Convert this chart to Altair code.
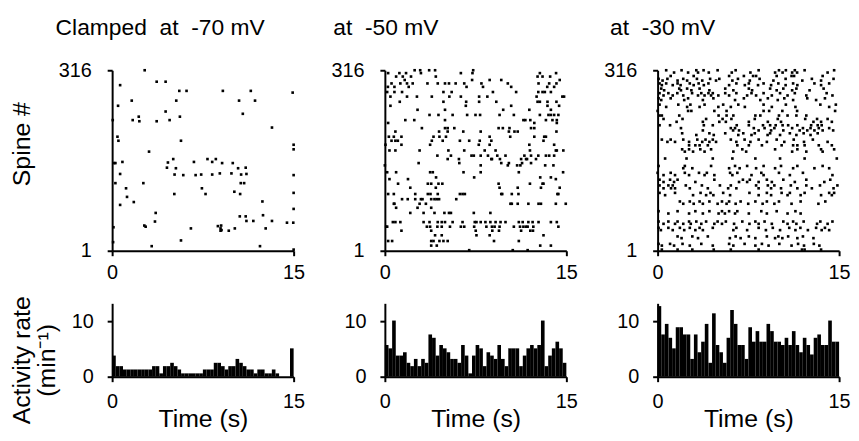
import altair as alt
import pandas as pd

FONT = "Liberation Sans"
NB = "\u00a0"

# ---------------- text ----------------
TITLES = ["Clamped" + NB * 2 + "at" + NB * 2 + "-70" + NB + "mV",
          "at" + NB * 2 + "-50" + NB + "mV",
          "at" + NB * 2 + "-30" + NB + "mV"]
TITLE_DX = [-57, -52, -48]
SPINE_TICKS = [1, 316]
TIME_TICKS = [0, 15]
RATE_TICKS = [0, 10]
BIN_WIDTH_S = 0.3

# ---------------- raster data ----------------
# Clamped at -70 mV: (time s, spine #)
EVENTS_70 = [(2.69, 316), (0.66, 290), (3.68, 296), (4.42, 296), (5.55, 280), (6.15, 280), (9.15, 280),
             (11.46, 280), (14.92, 277), (1.62, 263), (5.30, 263), (10.49, 263), (11.81, 263), (0.49, 254),
             (4.42, 244), (10.8, 240), (0.05, 229), (1.70, 229), (2.20, 235), (2.25, 227), (3.68, 227),
             (4.75, 229), (5.60, 235), (13.21, 216), (0.44, 200), (0.52, 193), (5.69, 193), (15.0, 186),
             (15.0, 178), (3.05, 174), (0.16, 154), (0.27, 154), (0.85, 156), (4.61, 155), (5.05, 161),
             (4.53, 146), (5.27, 145), (5.16, 134), (5.88, 133), (6.76, 156), (6.90, 133), (7.36, 134),
             (7.88, 161), (8.27, 156), (8.57, 161), (8.27, 134), (9.09, 154), (8.90, 136), (9.86, 136),
             (9.97, 154), (10.41, 145), (11.04, 146), (10.66, 134), (11.10, 135), (10.63, 119), (10.91, 119),
             (0.66, 135), (0.27, 119), (2.58, 119), (1.15, 110), (7.42, 110), (7.72, 100), (5.14, 100),
             (10.1, 104), (10.58, 100), (15.0, 133), (15.0, 102), (1.23, 95), (1.79, 86), (0.66, 81),
             (12.42, 87), (15.0, 74), (3.60, 67), (10.55, 61), (11.04, 61), (12.47, 63), (11.10, 53),
             (11.67, 53), (13.21, 53), (3.54, 52), (14.45, 50), (14.97, 50), (2.66, 45), (2.77, 43),
             (0.11, 42), (6.51, 40), (8.74, 44), (9.01, 45), (8.96, 40), (9.04, 37), (8.96, 36), (9.64, 36),
             (10.14, 40), (12.69, 40), (5.69, 19), (0.08, 16), (3.27, 9), (12.22, 9), (15.0, 3)]

# at -50 mV: (spine #, [event times s])
ROWS_50 = [
    (316, [2.46, 2.92, 3.66, 4.15, 7.30]),
    (311, [0.27, 1.20, 1.75, 2.98, 6.28, 7.24, 12.81, 14.15]),
    (305, [0.93, 1.48, 2.16, 4.21, 12.62, 13.03, 13.66]),
    (299, [1.64, 7.21, 8.66, 9.62, 14.45]),
    (293, [0.55, 1.28, 1.83, 2.30, 3.52, 4.37, 4.97, 5.30, 5.85, 6.56, 7.98, 10.16, 12.70, 13.58, 14.18]),
    (287, [0.25, 0.79, 1.97, 6.75, 8.11, 10.44, 13.42, 13.99]),
    (278, [0.19, 0.79, 1.42, 4.84, 5.52, 8.93, 10.85, 12.68, 13.03, 13.22, 13.72]),
    (270, [0.46, 1.83, 2.65, 3.88, 5.33, 6.28, 7.79, 8.47, 12.54, 14.67, 14.81]),
    (261, [1.23, 4.84, 6.72, 7.79, 9.21, 12.62, 12.81, 13.44, 14.18]),
    (254, [0.46, 6.69, 10.44, 13.44, 14.40]),
    (247, [2.70, 4.97, 9.78, 11.94, 13.72]),
    (238, [3.69, 4.43, 5.60, 6.80, 7.49, 7.87, 9.48, 10.66, 12.81, 13.52, 13.72, 13.99, 14.34]),
    (229, [1.69, 2.43, 4.97, 11.45, 11.61, 12.02, 13.31, 13.85, 14.21]),
    (224, [0.27, 12.35, 14.21]),
    (215, [3.06, 4.97, 5.19, 5.74, 9.40, 9.75, 10.30, 12.08, 12.35]),
    (209, [0.87, 4.48, 5.19, 6.48, 7.92, 10.25, 10.71, 10.98, 14.18]),
    (200, [0.33, 0.74, 1.37, 4.02, 4.51, 5.05, 8.66, 10.36, 12.35, 13.17, 13.31]),
    (193, [0.55, 0.87, 1.07, 3.88, 4.78, 6.20, 6.97, 7.84, 8.80, 13.11]),
    (186, [0.05, 1.37, 3.74, 7.76, 8.66, 11.94, 13.99]),
    (176, [0.38, 0.87, 2.87, 5.25, 6.56, 8.25, 9.15, 11.99, 14.13, 14.21, 14.75]),
    (167, [4.34, 5.46, 7.16, 7.35, 7.92, 8.52, 9.29, 9.97, 11.53, 12.08, 12.68, 13.31, 13.58, 13.99]),
    (161, [5.19, 6.12, 8.80, 8.85, 9.51, 11.26, 11.67, 11.75, 12.49]),
    (154, [2.79, 6.15, 9.62, 10.25, 11.34, 12.08]),
    (150, [0.0, 7.92, 10.16, 10.93, 11.20, 13.25, 13.93]),
    (138, [0.19, 0.93, 3.74, 3.96, 6.50, 7.92, 11.07, 14.73]),
    (129, [4.23, 7.38, 12.84, 13.72]),
    (126, [0.38, 1.91, 14.13]),
    (118, [1.09, 3.55, 3.83, 4.43, 4.75, 9.40, 11.99, 13.03, 13.11]),
    (111, [2.10, 4.21, 9.48, 10.98, 12.90, 14.45]),
    (100, [0.27, 0.74, 2.51, 3.55, 3.77, 4.37, 6.20, 6.42, 6.61, 9.62, 9.70, 10.49, 11.04, 14.26, 14.34]),
    (91, [1.42, 1.89, 2.51, 2.98, 3.11, 3.83, 4.10, 4.29, 4.48, 5.90]),
    (83, [0.74, 0.79, 2.87, 3.39, 10.38, 10.49, 10.98, 11.86, 12.70, 12.90, 14.13, 14.95]),
    (76, [0.93, 2.70, 3.83]),
    (67, [2.10, 3.20, 4.10, 4.92, 5.30, 5.46, 7.35, 8.72]),
    (51, [0.66, 0.87, 1.28, 3.20, 3.69, 4.37, 4.70, 4.97, 5.60, 6.42, 7.43, 7.57, 7.92, 8.31, 8.72, 9.15,
          9.56, 9.97, 11.07, 11.39, 11.86, 12.21, 12.70, 13.72, 14.21]),
    (43, [0.11, 0.19, 3.47, 3.74, 4.34, 4.70, 5.38, 6.28, 6.56, 7.38, 8.39, 8.85, 9.07, 9.48, 10.66, 11.17,
          11.45, 11.67, 11.80, 12.27, 14.34]),
    (36, [1.37, 3.83, 7.51, 8.88, 9.43, 11.26, 12.02, 12.24]),
    (28, [4.15, 4.70, 7.57, 8.66, 13.11]),
    (18, [0.27, 0.60, 3.83, 4.02, 4.51, 4.84, 5.19, 9.02, 11.07]),
    (10, [3.83, 4.29, 12.84, 13.72]),
    (2, [6.97, 10.57, 11.80]),
]

# at -30 mV: (spine #, [event times s])
ROWS_30 = [
    (316, [0.71, 1.98, 3.20, 3.80, 4.96, 6.45, 8.35, 10.03, 10.60, 11.34, 12.15, 14.59]),
    (312, [1.36, 2.52, 3.34, 4.23, 6.13, 7.67, 9.71, 10.33, 11.12, 11.53, 14.05]),
    (306, [1.08, 2.98, 5.91, 7.13, 7.89, 8.14, 9.84, 11.07, 11.28, 13.64]),
    (301, [0.08, 0.81, 2.12, 3.25, 4.34, 5.10, 6.64, 8.43, 10.58, 12.75, 14.54]),
    (298, [0.41, 1.65, 2.44, 3.69, 4.83, 6.18, 7.62, 9.57, 11.96, 13.51]),
    (293, [0.16, 0.71, 1.65, 2.66, 3.39, 4.20, 6.51, 7.54, 8.76, 9.98, 11.20, 12.96, 14.18]),
    (290, [0.35, 1.25, 1.90, 2.98, 3.82, 5.91, 7.21, 8.30, 9.38, 10.58, 11.55, 13.51]),
    (284, [0.30, 1.79, 2.44, 3.47, 5.59, 7.54, 9.30, 10.39, 11.47, 13.72]),
    (281, [0.54, 1.93, 2.79, 4.28, 6.26, 7.81, 9.84, 11.12, 12.56]),
    (276, [0.16, 0.89, 1.63, 2.85, 3.61, 4.20, 4.56, 5.59, 6.51, 7.76, 8.76, 10.12, 11.34, 13.97]),
    (272, [0.49, 1.25, 2.12, 3.34, 3.88, 4.42, 5.02, 5.91, 7.40, 8.14, 9.44, 10.74, 12.29, 14.45]),
    (267, [0.08, 1.08, 2.52, 4.61, 7.13, 9.11, 10.47, 12.37, 13.83]),
    (264, [0.30, 2.20, 3.74, 6.40, 8.49, 9.93, 11.20, 13.10]),
    (256, [0.16, 1.71, 2.71, 3.88, 5.42, 6.67, 8.76, 10.60, 13.45, 14.73]),
    (252, [0.71, 2.44, 3.47, 5.02, 6.05, 7.21, 9.44, 11.39, 14.18]),
    (245, [0.0, 2.52, 2.79, 4.69, 5.70, 8.76, 9.22, 10.31, 11.53, 14.67]),
    (237, [0.16, 0.35, 1.79, 5.04, 5.70, 6.26, 8.08, 8.49, 10.03, 10.74, 11.47, 12.29]),
    (231, [0.49, 2.06, 4.01, 5.37, 6.10, 8.03, 9.93, 12.20, 13.18, 14.05]),
    (226, [1.57, 3.74, 5.10, 5.64, 7.54, 9.11, 10.20, 12.88, 13.51, 14.40]),
    (220, [0.16, 1.03, 3.82, 4.56, 6.54, 7.54, 8.71, 9.30, 9.76, 10.33, 10.79, 11.55, 12.69, 13.23, 13.56]),
    (215, [1.93, 6.05, 6.40, 7.95, 8.84, 9.65, 11.12, 12.01, 12.64, 13.32, 14.18]),
    (211, [3.74, 6.24, 6.73, 8.35, 9.38, 10.39, 11.74, 12.37, 12.96, 13.64, 14.51]),
    (206, [2.03, 4.28, 5.59, 7.08, 8.03, 9.30, 10.93, 12.07, 13.23]),
    (203, [3.20, 4.64, 6.67, 7.76, 9.09, 10.12, 11.47, 12.64]),
    (195, [0.35, 1.08, 2.12, 3.28, 3.96, 4.56, 6.05, 7.19, 8.35, 9.84, 11.25, 12.83]),
    (191, [0.81, 1.44, 2.60, 3.69, 4.28, 4.83, 6.51, 7.67, 9.03, 10.47, 12.10, 14.05]),
    (185, [2.60, 3.12, 3.47, 4.15, 6.59, 7.54, 8.62, 10.25, 11.20, 11.55, 12.15, 13.32, 14.40]),
    (178, [2.03, 2.60, 3.53, 4.42, 7.00, 9.71, 11.55, 13.51, 14.59]),
    (174, [2.25, 2.93, 3.88, 6.26, 7.32, 11.12, 12.29, 13.64]),
    (162, [0.62, 2.39, 4.56, 6.18, 8.08, 10.12, 12.15, 14.81]),
    (149, [0.08, 2.25, 4.42, 6.40, 7.40, 8.76, 10.20, 11.55, 13.64]),
    (145, [2.12, 2.87, 5.91, 6.78, 8.14, 9.71, 11.20, 12.96, 14.18]),
    (137, [0.0, 1.08, 2.25, 3.42, 4.07, 5.99, 6.59, 8.57, 10.03, 12.01]),
    (133, [0.49, 1.44, 2.60, 3.88, 4.69, 6.18, 7.76, 8.76, 10.93, 14.45]),
    (125, [0.16, 1.03, 1.65, 4.69, 7.05, 7.62, 9.03, 10.39, 12.29, 14.27]),
    (121, [0.49, 1.36, 3.12, 6.73, 7.40, 8.35, 9.44, 11.34, 13.78]),
    (115, [0.16, 0.89, 1.25, 2.33, 3.66, 5.15, 6.05, 8.14, 9.11, 9.65, 11.01, 12.29, 13.42, 14.86]),
    (110, [0.49, 1.11, 1.44, 2.66, 4.15, 5.83, 6.51, 8.35, 9.38, 10.20, 11.55, 12.75, 14.54]),
    (102, [0.16, 1.44, 3.55, 4.37, 5.42, 7.59, 9.03, 10.25, 10.93, 12.15, 14.18, 14.59]),
    (98, [0.62, 2.93, 4.01, 4.61, 5.99, 8.35, 9.38, 10.74, 11.82, 13.51, 14.40]),
    (87, [1.84, 2.66, 3.47, 4.28, 5.32, 5.91, 6.86, 8.08, 9.03, 10.03, 11.82, 13.86]),
    (83, [2.12, 2.98, 3.74, 4.96, 5.70, 6.45, 7.49, 8.68, 9.65, 11.07, 13.29]),
    (70, [0.08, 1.65, 3.12, 4.28, 5.32, 5.91, 6.59, 8.57, 9.84, 11.39]),
    (66, [0.89, 2.60, 3.74, 5.04, 5.56, 6.40, 7.54, 9.03, 10.74, 11.82]),
    (52, [0.08, 0.89, 1.65, 2.60, 3.20, 4.01, 4.96, 5.64, 7.00, 8.08, 8.84, 10.39, 11.20, 12.07, 13.45, 14.45]),
    (48, [0.49, 1.44, 2.12, 2.74, 3.61, 4.69, 5.32, 6.32, 7.59, 8.35, 9.44, 10.74, 11.47, 13.18, 14.05]),
    (41, [0.08, 0.89, 1.84, 2.66, 3.47, 4.56, 6.51, 8.35, 9.52, 10.88, 11.80, 13.10, 13.83]),
    (37, [0.27, 1.25, 2.20, 3.12, 3.74, 6.26, 7.40, 8.95, 10.12, 11.39, 12.42, 13.56, 14.18]),
    (26, [1.65, 2.87, 4.15, 6.45, 7.54, 9.03, 9.98, 10.79, 12.01]),
    (23, [1.98, 3.34, 5.97, 6.86, 8.08, 9.71, 10.31, 11.55, 12.88]),
    (13, [0.08, 1.03, 2.06, 3.61, 5.91, 7.19, 8.62, 10.06, 11.61, 12.91]),
    (10, [0.35, 1.36, 2.66, 4.56, 6.26, 8.08, 9.17, 11.07, 12.10, 13.37]),
    (3, [0.35, 1.65, 2.87, 4.64, 6.05, 8.35, 11.93, 12.15, 13.51]),
]

# ---------------- activity rate histograms (min^-1, 0.3 s bins) ----------------
RATE_70 = [3.8, 1.9, 1.9, 1.3, 1.3, 1.3, 1.3, 1.3, 1.3, 1.3, 1.3, 1.9, 1.9, 0.6, 1.9, 1.9, 2.5, 1.9, 1.3, 0.6,
           0.6, 0.6, 0.6, 0.6, 0.6, 1.3, 1.3, 1.3, 2.5, 2.5, 1.9, 1.3, 1.9, 1.9, 3.2, 2.5, 1.9, 1.3, 1.3, 0.6,
           1.3, 1.3, 0.6, 0.6, 1.3, 0.6, 0.0, 0.0, 0.0, 5.1]
RATE_50 = [5.7, 5.1, 10.1, 3.8, 3.8, 4.4, 2.5, 1.9, 3.2, 1.9, 3.2, 2.5, 7.6, 7.0, 3.8, 5.7, 5.1, 4.4, 3.2, 3.2,
           2.5, 5.7, 3.8, 0.6, 3.8, 5.7, 5.1, 1.9, 4.4, 3.8, 3.2, 5.7, 3.2, 1.9, 5.1, 5.1, 5.1, 1.9, 3.8, 5.1,
           5.7, 5.1, 5.7, 10.1, 1.9, 3.8, 5.1, 6.3, 5.1, 2.5]
RATE_30 = [12.7, 7.6, 9.5, 7.0, 5.1, 8.9, 8.9, 7.6, 7.6, 3.2, 7.6, 4.4, 6.3, 9.5, 2.5, 11.4, 5.7, 4.4, 2.5, 7.0,
           12.0, 9.5, 5.7, 5.7, 3.2, 8.9, 6.3, 8.2, 6.3, 6.3, 9.5, 8.2, 6.3, 6.3, 5.7, 7.0, 5.7, 8.2, 5.7, 4.4,
           7.0, 5.7, 4.0, 7.0, 7.6, 5.7, 5.7, 10.1, 6.3, 6.3]


def raster_frame(rows, pairs=False):
    rec = []
    if pairs:
        for t, s in rows:
            rec.append({"t": t, "spine": s})
    else:
        for s, times in rows:
            for t in times:
                rec.append({"t": t, "spine": s})
    return pd.DataFrame(rec)


def hist_frame(rates):
    return pd.DataFrame({"t0": [i * BIN_WIDTH_S for i in range(len(rates))],
                         "t1": [(i + 1) * BIN_WIDTH_S for i in range(len(rates))],
                         "rate": rates,
                         "base": [0.0] * len(rates)})


W = 183
RH = 182
HH = 74


def raster_chart(df, idx):
    first = idx == 0
    if first:
        yaxis = alt.Axis(values=SPINE_TICKS, title="Spine #", titleX=-83, titleY=74, titleAngle=270,
                         titleBaseline="alphabetic", titleAlign="center", labelPadding=16)
    else:
        yaxis = alt.Axis(values=SPINE_TICKS, title=None, labelPadding=16)
    return alt.Chart(df).mark_square(size=7, color="black", opacity=1).encode(
        x=alt.X("t:Q", scale=alt.Scale(domain=[0, 15], nice=False, zero=False),
                axis=alt.Axis(values=TIME_TICKS, title=None, labelBaseline="alphabetic", labelPadding=23)),
        y=alt.Y("spine:Q", scale=alt.Scale(domain=[1, 316], nice=False, zero=False), axis=yaxis),
    ).properties(
        width=W, height=RH,
        title=alt.TitleParams(text=TITLES[idx], anchor="start", frame="group", dx=TITLE_DX[idx],
                              fontSize=23, font=FONT, fontWeight="normal", color="black",
                              baseline="alphabetic", offset=3),
    )


def hist_chart(df, idx):
    first = idx == 0
    if first:
        yaxis = alt.Axis(values=RATE_TICKS, title=["Activity rate", "(min\u207b\u00b9)"], titleX=-83, titleY=57,
                         titleAngle=270, titleBaseline="alphabetic", titleAlign="center", titleLineHeight=25,
                         labelPadding=14)
    else:
        yaxis = alt.Axis(values=RATE_TICKS, title=None, labelPadding=14)
    return alt.Chart(df).mark_rect(color="black").encode(
        x=alt.X("t0:Q", scale=alt.Scale(domain=[0, 15], nice=False, zero=False),
                axis=alt.Axis(values=TIME_TICKS, title="Time (s)", titleBaseline="alphabetic", titleY=50,
                              labelBaseline="alphabetic", labelPadding=26)),
        x2="t1:Q",
        y=alt.Y("rate:Q", scale=alt.Scale(domain=[0, 13.2], nice=False, zero=True), axis=yaxis),
        y2="base:Q",
    ).properties(width=W, height=HH)


raster_data = [raster_frame(EVENTS_70, pairs=True), raster_frame(ROWS_50), raster_frame(ROWS_30)]
hist_data = [hist_frame(RATE_70), hist_frame(RATE_50), hist_frame(RATE_30)]

panels = [raster_chart(raster_data[i], i) for i in range(3)] + [hist_chart(hist_data[i], i) for i in range(3)]

chart = alt.concat(*panels, columns=3, spacing={"row": 53, "column": 92}, bounds="flush").properties(
    padding={"left": 1, "top": 6, "right": 0, "bottom": 0}
).configure_axis(
    domainColor="black", domainWidth=2, tickColor="black", tickWidth=2, tickSize=5,
    labelFont=FONT, labelFontSize=20, labelColor="black", labelFlush=False, labelOverlap=False,
    titleFont=FONT, titleFontSize=25, titleFontWeight="normal", titleColor="black", grid=False,
).configure_view(stroke="transparent")

chart.save("out.html", embed_options={"renderer": "svg", "actions": False})
